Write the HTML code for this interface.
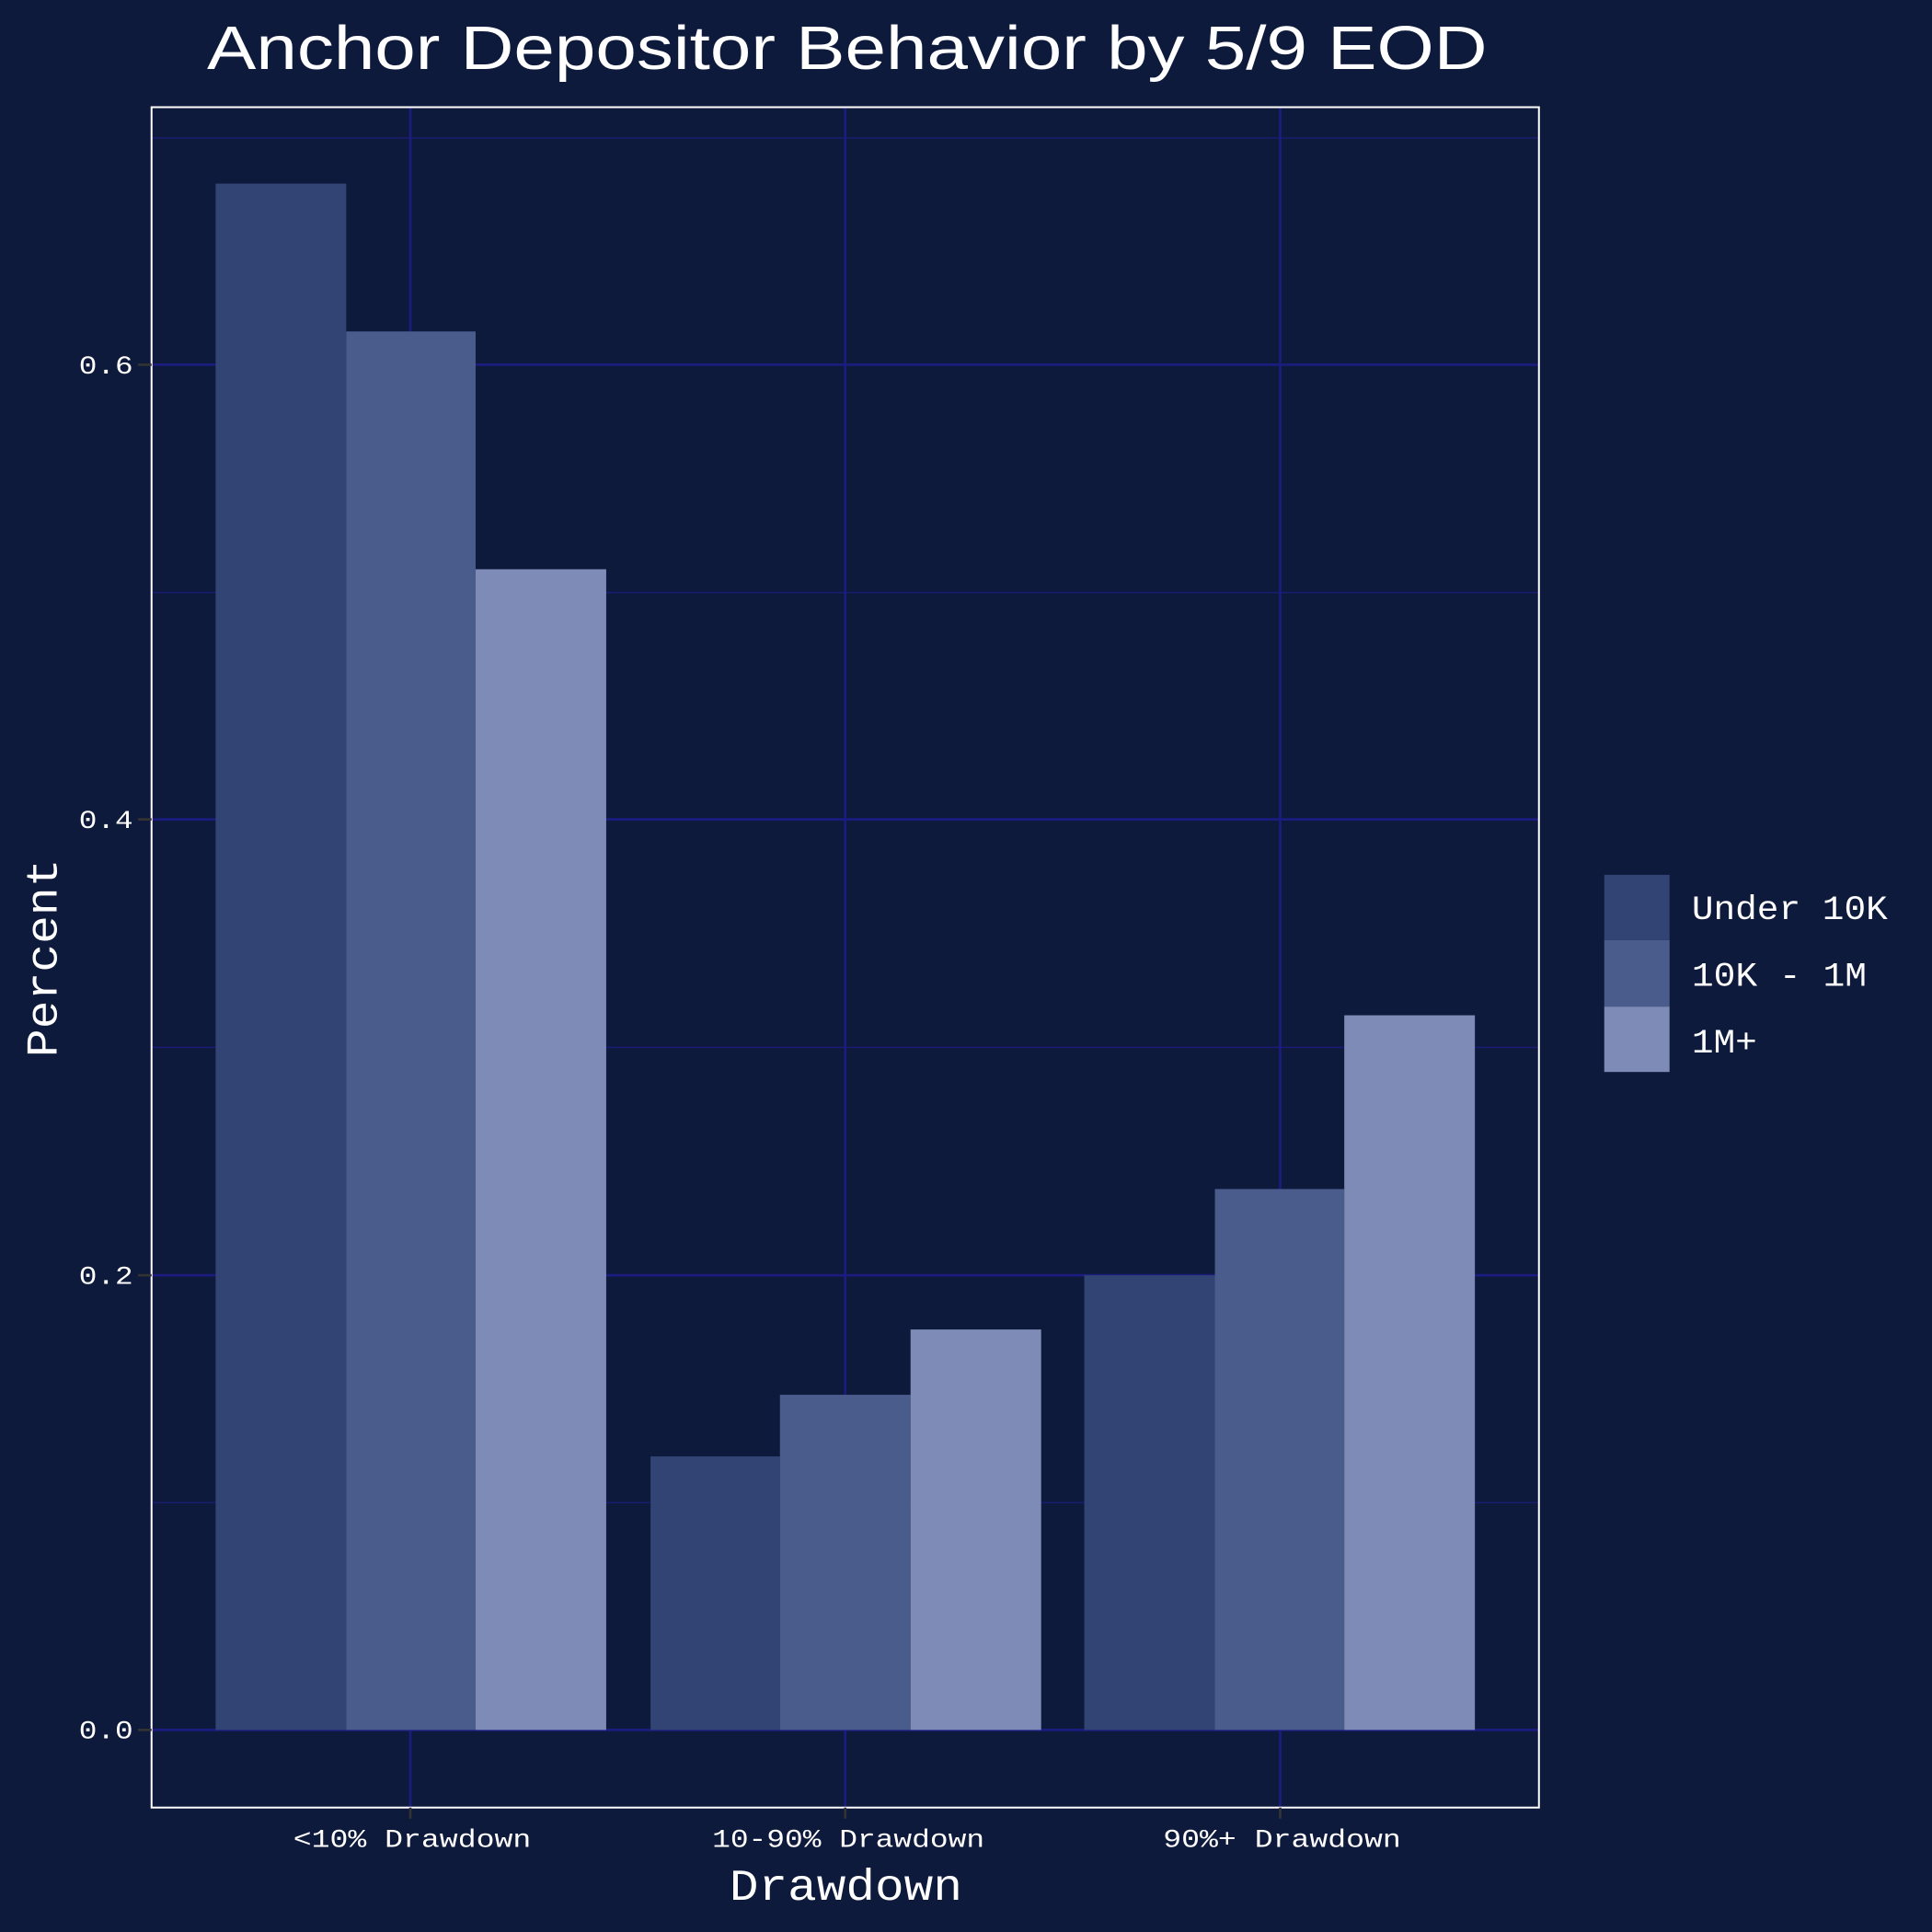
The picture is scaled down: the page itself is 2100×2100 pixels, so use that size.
<!DOCTYPE html>
<html><head><meta charset="utf-8"><style>html,body{margin:0;padding:0;background:#0e1a3c}svg{display:block}</style></head>
<body>
<svg width="2100" height="2100" viewBox="0 0 1568 1568" xmlns="http://www.w3.org/2000/svg">
<rect width="1568" height="1568" fill="#0e1a3c"/>
<g stroke="#1c1c78" stroke-width="1">
<line x1="123" x2="1249" y1="1219.5" y2="1219.5"/>
<line x1="123" x2="1249" y1="850" y2="850"/>
<line x1="123" x2="1249" y1="481" y2="481"/>
<line x1="123" x2="1249" y1="112" y2="112"/>
</g>
<g stroke="#1c1c80" stroke-width="2">
<line x1="123" x2="1249" y1="1404" y2="1404"/>
<line x1="123" x2="1249" y1="1035" y2="1035"/>
<line x1="123" x2="1249" y1="665" y2="665"/>
<line x1="123" x2="1249" y1="296" y2="296"/>
<line x1="333" x2="333" y1="87" y2="1467"/>
<line x1="686" x2="686" y1="87" y2="1467"/>
<line x1="1039" x2="1039" y1="87" y2="1467"/>
</g>
<g>
<rect x="175" y="149" width="106" height="1255" fill="#324474"/>
<rect x="281" y="269" width="105" height="1135" fill="#4a5c8b"/>
<rect x="386" y="462" width="106" height="942" fill="#7d8bb6"/>
<rect x="528" y="1182" width="105" height="222" fill="#324474"/>
<rect x="633" y="1132" width="106" height="272" fill="#4a5c8b"/>
<rect x="739" y="1079" width="106" height="325" fill="#7d8bb6"/>
<rect x="880" y="1035" width="106" height="369" fill="#324474"/>
<rect x="986" y="965" width="105" height="439" fill="#4a5c8b"/>
<rect x="1091" y="824" width="106" height="580" fill="#7d8bb6"/>
</g>
<rect x="123" y="87" width="1126" height="1380" fill="none" stroke="#fff" stroke-width="1.5"/>
<g stroke="#333" stroke-width="2">
<line x1="112" x2="123" y1="1404" y2="1404"/><line x1="112" x2="123" y1="1035" y2="1035"/>
<line x1="112" x2="123" y1="665" y2="665"/><line x1="112" x2="123" y1="296" y2="296"/>
<line x1="333" x2="333" y1="1467" y2="1476"/><line x1="686" x2="686" y1="1467" y2="1476"/><line x1="1039" x2="1039" y1="1467" y2="1476"/>
</g>
<g fill="#fff" font-family="Liberation Mono, monospace" font-size="21">
<text x="108" y="1411" text-anchor="end" textLength="44" lengthAdjust="spacingAndGlyphs">0.0</text>
<text x="108" y="1042" text-anchor="end" textLength="44" lengthAdjust="spacingAndGlyphs">0.2</text>
<text x="108" y="672" text-anchor="end" textLength="44" lengthAdjust="spacingAndGlyphs">0.4</text>
<text x="108" y="303" text-anchor="end" textLength="44" lengthAdjust="spacingAndGlyphs">0.6</text>
<text x="238" y="1499" textLength="193" lengthAdjust="spacingAndGlyphs">&lt;10% Drawdown</text>
<text x="578" y="1499" textLength="221" lengthAdjust="spacingAndGlyphs">10-90% Drawdown</text>
<text x="944" y="1499" textLength="193" lengthAdjust="spacingAndGlyphs">90%+ Drawdown</text>
<text x="592" y="1542" font-size="36" textLength="189" lengthAdjust="spacingAndGlyphs">Drawdown</text>
<text transform="translate(46,858) rotate(-90)" font-size="36" textLength="161" lengthAdjust="spacingAndGlyphs">Percent</text>
<text x="1373" y="746" font-size="28" textLength="159" lengthAdjust="spacingAndGlyphs">Under 10K</text>
<text x="1373" y="800" font-size="28" textLength="142" lengthAdjust="spacingAndGlyphs">10K - 1M</text>
<text x="1373" y="854" font-size="28" textLength="53" lengthAdjust="spacingAndGlyphs">1M+</text>
</g>
<rect x="1302" y="710" width="53" height="53" fill="#324474"/>
<rect x="1302" y="763" width="53" height="54" fill="#4a5c8b"/>
<rect x="1302" y="817" width="53" height="53" fill="#7d8bb6"/>
<text x="168" y="56" fill="#fff" font-family="Liberation Sans, sans-serif" font-size="50" textLength="1039" lengthAdjust="spacingAndGlyphs">Anchor Depositor Behavior by 5/9 EOD</text>
</svg>
</body></html>
